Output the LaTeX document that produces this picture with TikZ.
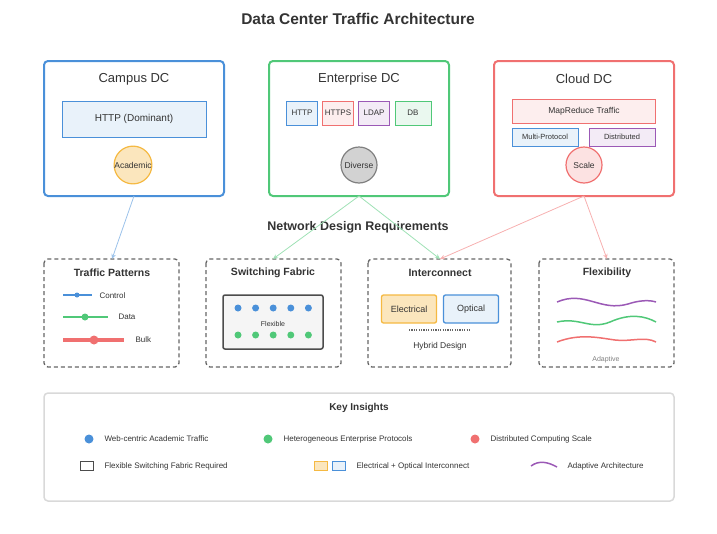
\documentclass[tikz,border=0pt]{standalone}
\usepackage{fontspec}
\setmainfont{Liberation Sans}
\usetikzlibrary{arrows.meta}
\definecolor{cblue}{HTML}{4A90D9}
\definecolor{cgreen}{HTML}{50C878}
\definecolor{cred}{HTML}{F07070}
\definecolor{cpurple}{HTML}{9B59B6}
\definecolor{corange}{HTML}{F5B942}
\definecolor{tx}{HTML}{333333}
\begin{document}
\begin{tikzpicture}[x=1pt,y=-1pt,
  every node/.style={text=tx},
  dc/.style={draw=#1,line width=2pt,rounded corners=4pt,fill=white},
  req/.style={draw=gray!80!black,line width=1.3pt,dash pattern=on 4pt off 3pt,rounded corners=4pt},
  pill/.style={draw=#1,line width=1pt,fill=#1!12,minimum height=24pt,inner sep=1.5pt},
  circ/.style={circle,draw=#1,line width=1.2pt,fill=#1!35,minimum size=36pt,inner sep=0pt,font=\fontsize{8.5}{9}\selectfont},
  lnk/.style={draw=#1!55,line width=0.8pt,-{Stealth[length=5pt,width=4.5pt]}},
  hd/.style={font=\bfseries\fontsize{10.5}{12}\selectfont},
  sm/.style={font=\fontsize{8}{9}\selectfont}]
\useasboundingbox (0,0) rectangle (717,533);
\node[font=\bfseries\fontsize{15.5}{18}\selectfont] (title) at (358,19) {Data Center Traffic Architecture};
% top boxes
\draw[dc=cblue] (44,61) rectangle (224,196); \coordinate (cb) at (134,196);
\draw[dc=cgreen] (269,61) rectangle (449,196); \coordinate (eb) at (359,196);
\draw[dc=cred] (494,61) rectangle (674,196); \coordinate (clb) at (584,196);
\node[font=\fontsize{13}{15}\selectfont] (t1) at (134,79) {Campus DC};
\node[font=\fontsize{13}{15}\selectfont] (t2) at (359,79) {Enterprise DC};
\node[font=\fontsize{13}{15}\selectfont] (t3) at (584,79) {Cloud DC};
\node[draw=cblue,line width=1pt,fill=cblue!12,minimum width=144pt,minimum height=36pt] (http) at (134,119) {};
\node[font=\fontsize{10}{12}\selectfont] (httpt) at (http.center) {HTTP (Dominant)};
\node[circ=corange] (acad) at (133,165) {Academic};
\foreach \n/\c/\x/\w/\t in {e1/cblue/302/31/HTTP,e2/cred/338/31/HTTPS,e3/cpurple/374/31/LDAP,e4/cgreen/413/36/DB}{
  \node[pill=\c,minimum width=\w pt] (\n) at (\x,113) {};
  \node[font=\fontsize{8}{9}\selectfont] (\n t) at (\n.center) {\t};}
\node[circ=gray] (div) at (359,165) {Diverse};
\node[pill=cred,minimum width=143pt] (mr) at (584,111) {};
\node[font=\fontsize{8.5}{10}\selectfont] (mrt) at (mr.center) {MapReduce Traffic};
\node[pill=cblue,minimum width=66pt,minimum height=18pt] (mp) at (545,137) {};
\node[font=\fontsize{7.5}{9}\selectfont] (mpt) at (mp.center) {Multi-Protocol};
\node[pill=cpurple,minimum width=66pt,minimum height=18pt] (ds) at (622,137) {};
\node[font=\fontsize{7.5}{9}\selectfont] (dst) at (ds.center) {Distributed};
\node[circ=cred,fill=cred!20] (sc) at (584,165) {Scale};
\node[font=\bfseries\fontsize{12.5}{14}\selectfont] (ndr) at (358,227) {Network Design Requirements};
% req boxes
\draw[req] (44,259) rectangle (179,367);
\draw[req] (206,259) rectangle (341,367);
\draw[req] (368,259) rectangle (511,367);
\draw[req] (539,259) rectangle (674,367);
\coordinate (r1) at (112,259); \coordinate (r2) at (273,259);
\coordinate (r3) at (440,259); \coordinate (r4) at (607,259);
\draw[lnk=cblue] (cb) -- (r1);
\draw[lnk=cgreen] (eb) -- (r2);
\draw[lnk=cgreen] (eb) -- (r3);
\draw[lnk=cred] (clb) -- (r3);
\draw[lnk=cred] (clb) -- (r4);
\node[hd] (h1) at (112,273) {Traffic Patterns};
\node[hd] (h2) at (273,273) {Switching Fabric};
\node[hd] (h3) at (440,273) {Interconnect};
\node[hd] (h4) at (607,273) {Flexibility};
% traffic patterns
\coordinate (a1) at (63,295); \coordinate (a2) at (92,295);
\draw[cblue,line width=1.6pt] (a1) -- (a2); \fill[cblue] (77,295) circle (2.5pt);
\node[sm,anchor=west] (l1) at (96,296) {Control};
\coordinate (b1) at (63,317); \coordinate (b2) at (108,317);
\draw[cgreen,line width=2.8pt] (b1) -- (b2); \fill[cgreen] (85,317) circle (3.5pt);
\node[sm,anchor=west] (l2) at (115,317) {Data};
\coordinate (c1) at (63,340); \coordinate (c2) at (124,340);
\draw[cred,line width=4pt] (c1) -- (c2); \fill[cred] (94,340) circle (4.5pt);
\node[sm,anchor=west] (l3) at (132,340) {Bulk};
% switching fabric
\node[draw=gray!60!black,line width=1.5pt,fill=gray!8,rounded corners=2pt,minimum width=100pt,minimum height=54pt] (fab) at (273,322) {};
\foreach \i in {0,...,4} {\fill[cblue] (238+\i*17.6,308) circle (3.5pt); \fill[cgreen] (238+\i*17.6,335) circle (3.5pt);}
\node[font=\fontsize{7}{8}\selectfont] (flx) at (273,324) {Flexible};
% interconnect
\node[draw=corange,line width=1.3pt,fill=corange!35,rounded corners=2pt,minimum width=55pt,minimum height=28pt] (el) at (409,309) {};
\node[font=\fontsize{9}{10}\selectfont] (elt) at (el.center) {Electrical};
\node[draw=cblue,line width=1.3pt,fill=cblue!12,rounded corners=2pt,minimum width=55pt,minimum height=28pt] (op) at (471,309) {};
\node[font=\fontsize{9}{10}\selectfont] (opt) at (op.center) {Optical};
\draw[gray!80!black,line width=1.3pt,dash pattern=on 1.2pt off 1.2pt] (409,330) -- (471,330);
\node[font=\fontsize{8.5}{10}\selectfont] (hyb) at (440,346) {Hybrid Design};
% flexibility
\draw[cpurple,line width=1.5pt] (557,302) .. controls (585,290) and (600,312) .. (628,304) .. controls (640,300) and (650,300) .. (656,302);
\draw[cgreen,line width=1.5pt] (557,322) .. controls (580,317) and (590,330) .. (610,322) .. controls (630,313) and (645,316) .. (656,322);
\draw[cred,line width=1.5pt] (557,342) .. controls (580,333) and (600,338) .. (615,340) .. controls (630,342) and (645,336) .. (656,342);
\node[font=\fontsize{7}{8}\selectfont,text=gray] (adp) at (606,360) {Adaptive};
% key insights
\draw[gray!30,line width=1.5pt,rounded corners=4pt] (44,393) rectangle (674,501);
\node[font=\bfseries\fontsize{10}{12}\selectfont] (ki) at (359,408) {Key Insights};
\fill[cblue] (89,439) circle (4.5pt);
\node[sm,anchor=west] (k1) at (101,439) {Web-centric Academic Traffic};
\fill[cgreen] (268,439) circle (4.5pt);
\node[sm,anchor=west] (k2) at (280,439) {Heterogeneous Enterprise Protocols};
\fill[cred] (475,439) circle (4.5pt);
\node[sm,anchor=west] (k3) at (487,439) {Distributed Computing Scale};
\draw[gray!60!black,line width=0.9pt] (80,461) rectangle (93,470);
\node[sm,anchor=west] (k4) at (101,466) {Flexible Switching Fabric Required};
\draw[corange,fill=corange!35,line width=0.9pt] (314,461) rectangle (327,470);
\draw[cblue,fill=cblue!12,line width=0.9pt] (332,461) rectangle (345,470);
\node[sm,anchor=west] (k5) at (353,466) {Electrical + Optical Interconnect};
\draw[cpurple,line width=1.5pt] (531,466) .. controls (539,460) and (548,462) .. (557,467);
\node[sm,anchor=west] (k6) at (564,466) {Adaptive Architecture};
\end{tikzpicture}
\end{document}
